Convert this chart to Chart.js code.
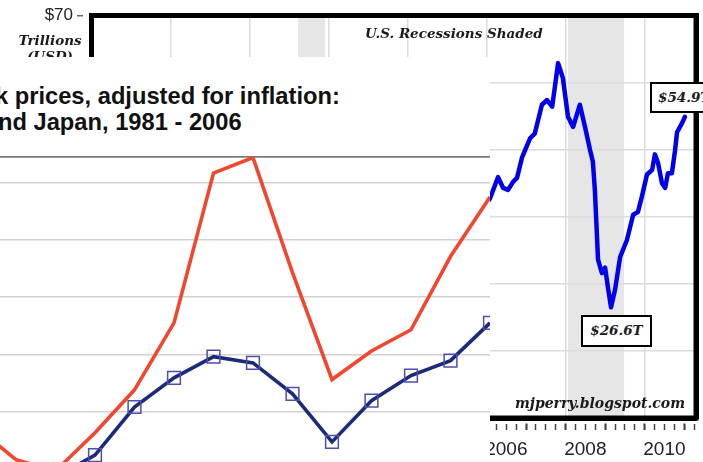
<!DOCTYPE html>
<html>
<head>
<meta charset="utf-8">
<script src="https://cdn.jsdelivr.net/npm/chart.js@4.4.1/dist/chart.umd.min.js"></script>
<style>
    html, body { margin: 0; padding: 0; background: #fff; }
    body { width: 703px; height: 462px; position: relative; overflow: hidden; }
    #wealthWrap { position: absolute; left: 0; top: 0; width: 703px; height: 462px; }
    .serif {
        position: absolute;
        font-family: 'DejaVu Serif', serif;
        font-weight: bold;
        font-style: italic;
        color: #1a1a1a;
        white-space: nowrap;
    }
    .callout {
        box-sizing: border-box;
        border: 2.5px solid #000;
        background: #fff;
        font-size: 13.5px;
        line-height: 26px;
    }
    #panel { position: absolute; left: 0; top: 57px; width: 490px; height: 405px; overflow: hidden; background: #fff; }
    .title {
        position: absolute;
        font: bold 23.7px 'Liberation Sans', Arial, sans-serif;
        line-height: 26px;
        color: #111;
        white-space: nowrap;
    }
    #stockWrap { position: absolute; left: 0; top: 98px; width: 490px; height: 371px; }
</style>
</head>
<body>
<div id="wealthWrap"><canvas id="wealthChart"></canvas></div>

<div class="serif" style="left:16px; top:32px; width:68px; text-align:center; font-size:13.5px; line-height:16px;">Trillions<br>(USD)</div>
<div class="serif" style="left:365px; top:25px; font-size:13.5px; line-height:16px;">U.S. Recessions Shaded</div>
<div class="serif" style="left:515px; top:395px; font-size:14px; line-height:16px;">mjperry.blogspot.com</div>
<div class="serif callout" style="left:650px; top:82px; width:64px; height:31px; padding-left:6px;">$54.9T</div>
<div class="serif callout" style="left:581px; top:315px; width:71px; height:32px; text-align:center;">$26.6T</div>

<div id="panel">
    <div class="title" style="left:-5px; top:25.5px;">k prices, adjusted for inflation:</div>
    <div class="title" style="left:-2px; top:51.5px;">nd Japan, 1981 - 2006</div>
    <div id="stockWrap"><canvas id="stockChart"></canvas></div>
</div>

<script>
// background chart: wealth in trillions USD (only the part right of the inset shows)
const wealthYears = [2005.83, 2006.09, 2006.29, 2006.42, 2006.54, 2006.67, 2006.77, 2006.90, 2007.10, 2007.22,
    2007.40, 2007.53, 2007.66, 2007.81, 2007.93, 2008.06, 2008.19, 2008.36, 2008.49, 2008.62,
    2008.69, 2008.74, 2008.79, 2008.82, 2008.92, 2009.00, 2009.07, 2009.15, 2009.25, 2009.38,
    2009.55, 2009.71, 2009.83, 2009.93, 2010.06, 2010.19, 2010.26, 2010.34, 2010.44, 2010.52,
    2010.59, 2010.69, 2010.77, 2010.82, 2010.95, 2011.02];
const wealthValues = [40.3, 42.8, 45.9, 44.3, 44.0, 45.2, 45.8, 48.9, 51.7, 52.4,
    56.7, 57.4, 56.4, 62.9, 60.7, 54.9, 53.4, 56.7, 53.4, 49.9,
    48.2, 44.0, 37.6, 33.6, 31.6, 32.4, 29.5, 26.5, 29.1, 34.0,
    36.5, 40.3, 40.7, 43.0, 46.3, 47.0, 49.3, 48.0, 45.0, 44.3,
    46.5, 46.5, 49.9, 52.6, 54.0, 54.9];
const recessionStart = [2001.23, 2008.06];
const recessionEnd = [2001.91, 2009.48];
const yearLabels = [1996, 1998, 2000, 2002, 2004, 2006, 2008, 2010];

// inset chart: stock prices adjusted for inflation
const stockYears = [1993, 1994, 1995, 1996, 1997, 1998, 1999, 2000, 2001, 2002, 2003, 2004, 2005, 2006];
const redSeries = [172, 116, 96, 163, 238, 355, 617, 644, 443, 256, 306, 343, 471, 575];
const navySeries = [null, null, 85, 124, 208, 259, 296, 285, 231, 147, 219, 263, 289, 355];

const X_MIN = 1996, X_MAX = 2011.3;

function fixedTicks(values) {
    return axis => { axis.ticks = values.map(v => ({ value: v })); };
}

function range(from, to, step) {
    const out = [];
    for (let v = from; v <= to + 1e-9; v += step) out.push(Math.round(v * 100) / 100);
    return out;
}

const recessionShading = {
    id: 'recessionShading',
    beforeDraw(chart) {
        const { ctx, chartArea, scales } = chart;
        ctx.save();
        ctx.fillStyle = '#e6e6e6';
        recessionStart.forEach((start, i) => {
            const x1 = scales.x.getPixelForValue(start);
            const x2 = scales.x.getPixelForValue(recessionEnd[i]);
            ctx.fillRect(x1, chartArea.top, x2 - x1, chartArea.bottom - chartArea.top);
        });
        ctx.restore();
    }
};

// thick black box round the plot area
const plotFrame = {
    id: 'plotFrame',
    afterDatasetsDraw(chart) {
        const { ctx, chartArea: a } = chart;
        ctx.save();
        ctx.strokeStyle = '#000';
        ctx.lineWidth = 5;
        ctx.strokeRect(a.left, a.top, a.right - a.left, a.bottom - a.top);
        ctx.restore();
    }
};

function wealthConfig() {
    const hidden = { display: false };
    const frame = { color: '#000', width: 5 };
    return {
        type: 'line',
        data: {
            datasets: [{
                data: wealthYears.map((x, i) => ({ x, y: wealthValues[i] })),
                borderColor: '#0000ee',
                borderWidth: 4.5,
                borderJoinStyle: 'round',
                borderCapStyle: 'round',
                pointRadius: 0,
                tension: 0
            }]
        },
        options: {
            responsive: true,
            maintainAspectRatio: false,
            animation: false,
            layout: { padding: 0, autoPadding: false },
            plugins: { legend: hidden, tooltip: { enabled: false } },
            scales: {
                x: {
                    type: 'linear', position: 'bottom', min: X_MIN, max: X_MAX,
                    afterBuildTicks: fixedTicks(yearLabels),
                    ticks: hidden,
                    grid: { color: '#dcdcdc', lineWidth: 1.5, drawTicks: false },
                    border: frame,
                    afterFit: s => { s.height = 0; }
                },
                xYear: {
                    type: 'linear', position: 'bottom', min: X_MIN, max: X_MAX,
                    afterBuildTicks: fixedTicks(range(1996, 2011, 1)),
                    ticks: hidden,
                    grid: { drawOnChartArea: false, tickLength: 12, tickColor: '#333', tickWidth: 1.8, tickBorderDash: [0, 2.5, 9, 100] },
                    border: frame,
                    afterFit: s => { s.height = 0; }
                },
                xQuarter: {
                    type: 'linear', position: 'bottom', min: X_MIN, max: X_MAX,
                    afterBuildTicks: fixedTicks(range(1996, 2011.25, 0.25)),
                    ticks: hidden,
                    grid: { drawOnChartArea: false, tickLength: 12, tickColor: '#444', tickWidth: 1.5, tickBorderDash: [0, 6, 6, 100] },
                    border: hidden,
                    afterFit: s => { s.height = 0; }
                },
                xLabel: {
                    type: 'linear', position: 'bottom', min: X_MIN, max: X_MAX, weight: 10,
                    afterBuildTicks: fixedTicks(yearLabels.map(y => y + 0.5)),
                    ticks: {
                        autoSkip: false, maxRotation: 0, padding: 0, color: '#222',
                        font: { family: "'Liberation Sans', Arial, sans-serif", size: 19 },
                        callback: v => String(Math.floor(v))
                    },
                    grid: { display: false, drawTicks: true, tickLength: 20 },
                    border: hidden,
                    afterFit: s => { s.height = 44; }
                },
                xTop: {
                    type: 'linear', position: 'top', min: X_MIN, max: X_MAX,
                    ticks: hidden,
                    grid: { display: false, drawTicks: false },
                    border: frame,
                    afterFit: s => { s.height = 15.5; }
                },
                y: {
                    min: 10, max: 70,
                    ticks: {
                        stepSize: 10, padding: 0, color: '#222',
                        font: { family: "'Liberation Sans', Arial, sans-serif", size: 17 },
                        callback: v => '$' + v
                    },
                    grid: { color: '#dcdcdc', lineWidth: 1.5, tickLength: 18.5, tickColor: '#666', tickWidth: 1.5, tickBorderDash: [0, 4, 6, 100] },
                    border: frame,
                    afterFit: s => { s.width = 91.5; }
                },
                yRight: {
                    position: 'right', min: 10, max: 70,
                    ticks: hidden,
                    grid: { display: false, drawTicks: false },
                    border: frame,
                    afterFit: s => { s.width = 7; }
                }
            }
        },
        plugins: [recessionShading, plotFrame]
    };
}

function stockConfig() {
    return {
        type: 'line',
        data: {
            labels: stockYears,
            datasets: [{
                label: 'red',
                data: stockYears.map((x, i) => ({ x, y: redSeries[i] })),
                borderColor: '#f2462e',
                borderWidth: 3.6,
                pointRadius: 0,
                tension: 0
            }, {
                label: 'navy',
                data: stockYears.map((x, i) => ({ x, y: navySeries[i] })),
                borderColor: '#1c2a7a',
                borderWidth: 3.6,
                pointStyle: 'rect',
                pointRadius: 9,
                pointBorderWidth: 1.5,
                pointBorderColor: '#4b4fae',
                pointBackgroundColor: 'rgba(0,0,0,0)',
                tension: 0
            }]
        },
        options: {
            responsive: true,
            maintainAspectRatio: false,
            animation: false,
            layout: { padding: { top: 2, left: 0, right: 0, bottom: 0 }, autoPadding: false },
            plugins: { legend: { display: false }, tooltip: { enabled: false } },
            scales: {
                x: { type: 'linear', min: 2006 - 490 / 39.5, max: 2006, display: false },
                y: {
                    min: 0, max: 645,
                    ticks: { display: false, stepSize: 100 },
                    afterBuildTicks: axis => { axis.ticks.push({ value: 645 }); },
                    grid: {
                        drawTicks: false,
                        lineWidth: 1.6,
                        color: ctx => (ctx.tick && ctx.tick.value === 645 ? '#7a7a7a' : '#d2d2d2')
                    },
                    border: { display: false },
                    afterFit: s => { s.width = 0; }
                }
            }
        }
    };
}

window.addEventListener('DOMContentLoaded', () => {
    new Chart(document.getElementById('wealthChart').getContext('2d'), wealthConfig());
    new Chart(document.getElementById('stockChart').getContext('2d'), stockConfig());
});
</script>
</body>
</html>
